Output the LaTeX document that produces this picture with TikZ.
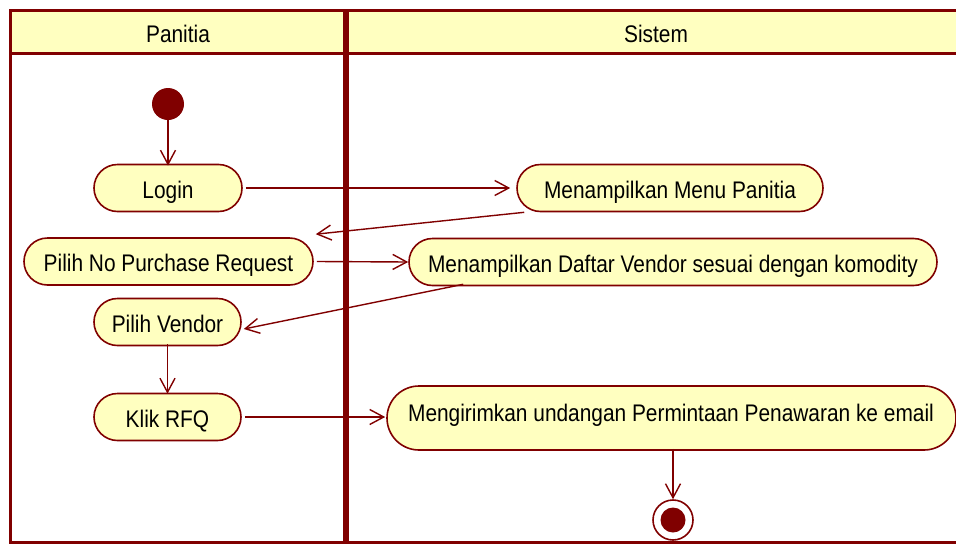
\documentclass[tikz,border=0pt]{standalone}
\usepackage{fontspec}
\setmainfont{Liberation Sans}[FakeStretch=0.87]
\usetikzlibrary{arrows.meta}
\definecolor{umlred}{HTML}{800000}
\definecolor{umlfill}{HTML}{FFFFC0}
\tikzset{
  umltext/.style={font=\fontsize{24}{28}\selectfont, text=black, text height=22pt, text depth=2pt},
  action/.style={umltext, draw=umlred, line width=1.6pt, fill=umlfill, rounded corners=23.5pt,
    minimum height=47pt, inner xsep=0pt, inner ysep=0pt},
  flow/.style={draw=umlred, line width=1.4pt,
    -{Straight Barb[length=14pt,width=15pt,line width=1.4pt]}},
  lane/.style={draw=umlred, line width=3pt}
}
\begin{document}
\begin{tikzpicture}[x=1pt,y=-1pt]
\useasboundingbox (0,0) rectangle (956,544);
% swimlane frame and headers
\fill[umlfill] (10.5,10) rectangle (960,53.5);
\draw[lane] (960,10) -- (10.5,10) -- (10.5,542) -- (960,542);
\draw[lane] (10.5,53.5) -- (960,53.5);
\draw[umlred, line width=6pt] (346,10) -- (346,542);
\node[umltext] (hpan) at (178,32) {Panitia};
\node[umltext] (hsis) at (656,32) {Sistem};
% initial and final states
\node[circle, fill=umlred, minimum size=32pt, inner sep=0pt] (start) at (168,104) {};
\node[circle, draw=umlred, line width=1.6pt, fill=white, minimum size=40pt, inner sep=0pt] (end) at (673,520) {};
\fill[umlred] (end.center) circle (12.5pt);
% actions
\node[action, minimum width=148pt] (login) at (168,188) {Login};
\node[action, minimum width=306pt] (menu) at (670,188) {Menampilkan Menu Panitia};
\node[action, minimum width=289pt] (pnpr) at (168.5,261.5) {Pilih No Purchase Request};
\node[action, minimum width=528pt] (daftar) at (673,262) {Menampilkan Daftar Vendor sesuai dengan komodity};
\node[action, minimum width=147pt] (vendor) at (167.5,322) {Pilih Vendor};
\node[action, minimum width=147pt] (rfq) at (167.5,417) {Klik RFQ};
\node[draw=umlred, line width=1.6pt, fill=umlfill, rounded corners=32pt,
  minimum width=569pt, minimum height=64pt] (kirim) at (671.5,418) {};
\node[umltext] (kirimtxt) at (671,411)
  {Mengirimkan undangan Permintaan Penawaran ke email};
% control flows
\draw[flow] (start) -- ([yshift=-2pt]login.north);
\draw[flow] ([xshift=3pt]login.east) -- ([xshift=-6pt]menu.west);
\draw[flow] ([xshift=8pt]menu.south west) -- ([xshift=2pt,yshift=3pt]pnpr.north east);
\draw[flow] ([xshift=3pt]pnpr.east) -- (daftar.west);
\draw[flow] ([xshift=55pt,yshift=2pt]daftar.south west) -- ([xshift=2pt,yshift=-7pt]vendor.east);
\draw[flow] ([yshift=2pt]vendor.south) -- ([yshift=-1pt]rfq.north);
\draw[flow] ([xshift=3pt]rfq.east) -- ([xshift=-1pt]kirim.west |- rfq.east);
\draw[flow] ([xshift=1.5pt,yshift=2pt]kirim.south) -- (end.north);
\end{tikzpicture}
\end{document}
